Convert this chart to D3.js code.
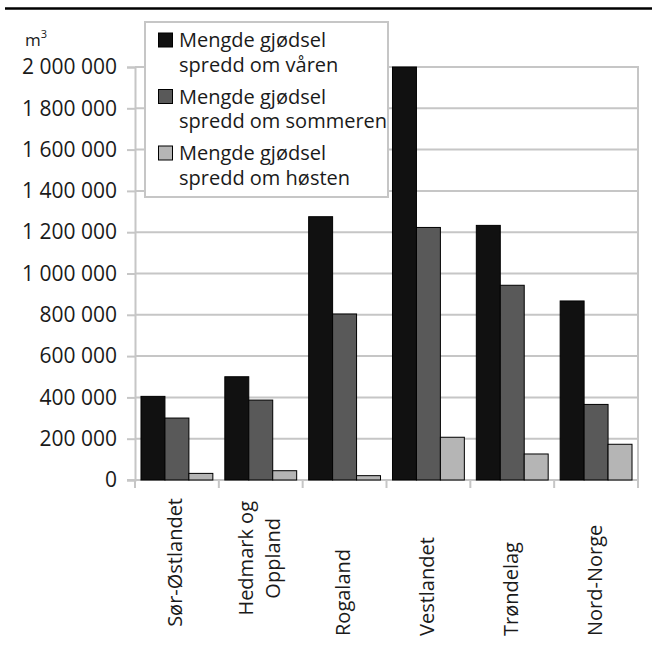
<!DOCTYPE html>
<html>
<head>
<meta charset="utf-8">
<script src="https://cdn.jsdelivr.net/npm/d3@7"></script>
<style>
  body { margin: 0; background: #fff; }
  text { font-family: "Open Sans", sans-serif; fill: #1a1a1a; }
</style>
</head>
<body>
<div id="container-id-1"></div>
<script>
// data
var regions = ['Sør-Østlandet', 'Hedmark og\nOppland', 'Rogaland', 'Vestlandet', 'Trøndelag', 'Nord-Norge'];
var series_names = [
  'Mengde gjødsel\nspredd om våren',
  'Mengde gjødsel\nspredd om sommeren',
  'Mengde gjødsel\nspredd om høsten'
];
var spring_values = [405000, 500000, 1275000, 2000000, 1233000, 867000];
var summer_values = [300000, 387000, 804000, 1223000, 943000, 366000];
var autumn_values = [32000, 45000, 21000, 207000, 126000, 173000];
var y_ticks = [0, 200000, 400000, 600000, 800000, 1000000, 1200000, 1400000, 1600000, 1800000, 2000000];
var unit_label = 'm';

var series_colors = ['#111111', '#595959', '#b5b5b5'];
var grid_color = '#c6c6c6';

// build table
var all_series = [spring_values, summer_values, autumn_values];
var bar_data = [];
regions.forEach(function(region, i){
  all_series.forEach(function(vals, s){
    bar_data.push({region: region, series: s, value: vals[i]});
  });
});

var svg_width = 652;
var svg_height = 651;

var main_svg = d3.select('#container-id-1')
  .append('svg')
  .attr('width', svg_width)
  .attr('height', svg_height);

// top rule
main_svg.append('line')
  .attr('x1', 5).attr('x2', svg_width)
  .attr('y1', 8.5).attr('y2', 8.5)
  .attr('stroke', '#000')
  .attr('stroke-width', 2.5);

var plot = {left: 135, right: 638, top: 67, bottom: 480};

var y = d3.scaleLinear()
  .domain([0, 2000000])
  .range([plot.bottom, plot.top]);

var x0 = d3.scaleBand()
  .domain(regions)
  .range([plot.left, plot.right])
  .paddingInner(0);

var x1 = d3.scaleBand()
  .domain([0, 1, 2])
  .range([0, x0.bandwidth()])
  .paddingInner(0)
  .paddingOuter(0.25);

var no_locale = d3.formatLocale({decimal: ',', thousands: '\u00a0', grouping: [3], currency: ['', '']});
var fmt = no_locale.format(',');

// gridlines
main_svg.append('g')
  .selectAll('line')
  .data(y_ticks)
  .enter()
  .append('line')
  .attr('x1', plot.left)
  .attr('x2', plot.right)
  .attr('y1', function(d){ return y(d); })
  .attr('y2', function(d){ return y(d); })
  .attr('stroke', grid_color)
  .attr('stroke-width', 2);

// right border
main_svg.append('line')
  .attr('x1', plot.right).attr('x2', plot.right)
  .attr('y1', plot.top - 1).attr('y2', plot.bottom)
  .attr('stroke', grid_color)
  .attr('stroke-width', 2);

// y axis
var y_axis = main_svg.append('g')
  .attr('transform', 'translate(' + plot.left + ',0)')
  .call(d3.axisLeft(y).tickValues(y_ticks).tickFormat(fmt).tickSize(8).tickPadding(10));
y_axis.select('.domain').attr('stroke', grid_color).attr('stroke-width', 2);
y_axis.selectAll('.tick line').attr('stroke', grid_color).attr('stroke-width', 2);
y_axis.selectAll('.tick text')
  .style('font-family', '"Open Sans", sans-serif')
  .style('font-size', '21px')
  .attr('fill', '#1a1a1a');

// x axis (ticks between categories)
var x_ticks = regions.map(function(r){ return x0(r); }).concat([plot.right]);
var x_axis = main_svg.append('g');
x_axis.append('line')
  .attr('x1', plot.left - 8).attr('x2', plot.right)
  .attr('y1', plot.bottom).attr('y2', plot.bottom)
  .attr('stroke', grid_color).attr('stroke-width', 2);
x_axis.selectAll('.xt')
  .data(x_ticks)
  .enter()
  .append('line')
  .attr('x1', function(d){ return d; })
  .attr('x2', function(d){ return d; })
  .attr('y1', plot.bottom)
  .attr('y2', plot.bottom + 8)
  .attr('stroke', grid_color).attr('stroke-width', 2);

// bars
main_svg.append('g')
  .selectAll('rect')
  .data(bar_data)
  .enter()
  .append('rect')
  .attr('x', function(d){ return x0(d.region) + x1(d.series); })
  .attr('width', x1.bandwidth())
  .attr('y', function(d){ return y(d.value); })
  .attr('height', function(d){ return y(0) - y(d.value); })
  .attr('fill', function(d){ return series_colors[d.series]; })
  .attr('stroke', '#000')
  .attr('stroke-width', 1);

// category labels, rotated
// short single-line labels sit on the bottom line, long or wrapped ones hang from the top
var label_top = 498;
var label_bottom = 636;
var line_h = 27;
regions.forEach(function(region){
  var lines = region.split('\n');
  var g = main_svg.append('g');
  var texts = g.selectAll('text')
    .data(lines)
    .enter()
    .append('text')
    .attr('text-anchor', 'middle')
    .attr('dominant-baseline', 'central')
    .style('font-size', '20px')
    .attr('x', 0)
    .attr('y', function(d, i){ return (i - (lines.length - 1) / 2) * line_h; })
    .text(function(d){ return d; });
  var L = 0;
  texts.each(function(){ L = Math.max(L, this.getComputedTextLength()); });
  var hang = lines.length > 1 || L > 115;
  var cy = hang ? label_top + L / 2 + (lines.length > 1 ? 3 : 0) : label_bottom - L / 2;
  var cx = x0(region) + x0.bandwidth() / 2 - 2;
  g.attr('transform', 'translate(' + cx + ',' + cy + ') rotate(-90)');
});

// unit label
var unit = main_svg.append('text')
  .attr('x', 25)
  .attr('y', 46)
  .style('font-size', '17px');
unit.append('tspan').text(unit_label);
unit.append('tspan')
  .attr('dy', -8)
  .style('font-size', '11px')
  .text('3');

// legend
var legend = main_svg.append('g');
legend.append('rect')
  .attr('x', 145).attr('y', 22)
  .attr('width', 243).attr('height', 175)
  .attr('fill', '#fff')
  .attr('stroke', grid_color)
  .attr('stroke-width', 2);

series_names.forEach(function(name, s){
  var base = 47 + s * 56.5;
  legend.append('rect')
    .attr('x', 158.5).attr('y', base - 14)
    .attr('width', 14).attr('height', 14)
    .attr('fill', series_colors[s])
    .attr('stroke', '#000')
    .attr('stroke-width', 1);
  name.split('\n').forEach(function(line, i){
    legend.append('text')
      .attr('x', 179)
      .attr('y', base + i * 24.5)
      .style('font-size', '20px')
      .text(line);
  });
});
</script>
</body>
</html>
